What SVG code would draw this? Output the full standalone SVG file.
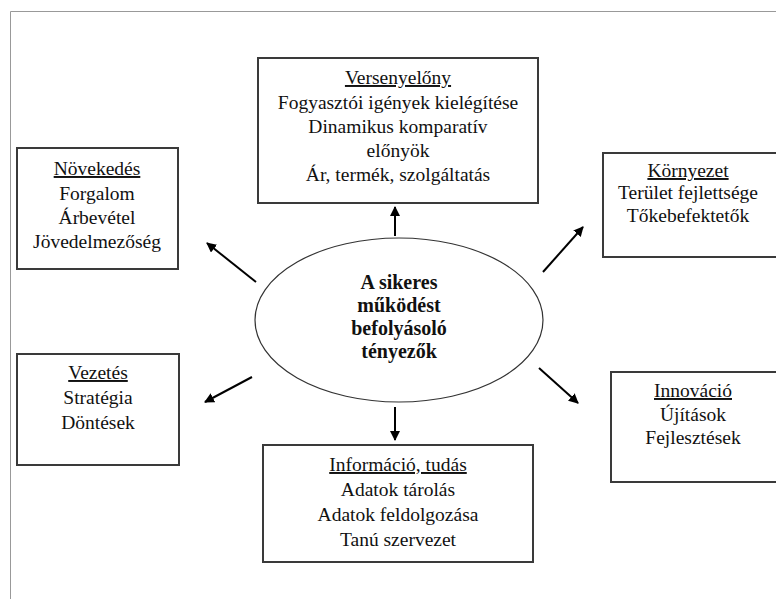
<svg xmlns="http://www.w3.org/2000/svg" width="776" height="599" viewBox="0 0 776 599">
<style>
.box{fill:#fff;stroke:#3a3a3a;stroke-width:2}
.t{font-family:"Liberation Serif","Times New Roman",serif;font-size:19.5px;fill:#111;text-anchor:middle}
.h{text-decoration:underline}
.b{font-weight:bold;font-size:20px}
.c{stroke:#000;stroke-width:2;fill:none;marker-end:url(#ah)}
</style>
<defs>
<marker id="ah" viewBox="0 0 10 10" refX="9" refY="5" markerWidth="5" markerHeight="5" orient="auto" markerUnits="strokeWidth">
<path d="M0,0 L10,5 L0,10 z" fill="#000"/>
</marker>
</defs>
<rect width="776" height="599" fill="#fff"/>
<path d="M10.5,599 V11.5 H776" fill="none" stroke="#999" stroke-width="1"/>

<g id="center">
<ellipse cx="399" cy="320" rx="144" ry="82" fill="#fff" stroke="#333" stroke-width="1.2"/>
<text class="t b" x="399" y="289">A sikeres</text>
<text class="t b" x="399" y="312">működést</text>
<text class="t b" x="399" y="335">befolyásoló</text>
<text class="t b" x="399" y="358">tényezők</text>
</g>

<g id="versenyelony">
<rect class="box" x="258" y="58" width="280" height="145"/>
<text class="t h" x="398" y="84">Versenyelőny</text>
<text class="t" x="398" y="109">Fogyasztói igények kielégítése</text>
<text class="t" x="398" y="133">Dinamikus komparatív</text>
<text class="t" x="398" y="157">előnyök</text>
<text class="t" x="398" y="181">Ár, termék, szolgáltatás</text>
</g>

<g id="novekedes">
<rect class="box" x="17" y="148" width="161" height="121"/>
<text class="t h" x="97" y="175">Növekedés</text>
<text class="t" x="97" y="200">Forgalom</text>
<text class="t" x="97" y="224">Árbevétel</text>
<text class="t" x="97" y="248">Jövedelmezőség</text>
</g>

<g id="kornyezet">
<rect class="box" x="603" y="153" width="180" height="104"/>
<text class="t h" x="688" y="177">Környezet</text>
<text class="t" x="688" y="199">Terület fejlettsége</text>
<text class="t" x="688" y="222">Tőkebefektetők</text>
</g>

<g id="vezetes">
<rect class="box" x="17" y="354" width="162" height="111"/>
<text class="t h" x="98" y="379">Vezetés</text>
<text class="t" x="98" y="404">Stratégia</text>
<text class="t" x="98" y="429">Döntések</text>
</g>

<g id="innovacio">
<rect class="box" x="611" y="372" width="180" height="110"/>
<text class="t h" x="693" y="397">Innováció</text>
<text class="t" x="693" y="421">Újítások</text>
<text class="t" x="693" y="444">Fejlesztések</text>
</g>

<g id="informacio">
<rect class="box" x="263" y="445" width="270" height="117"/>
<text class="t h" x="398" y="471">Információ, tudás</text>
<text class="t" x="398" y="496">Adatok tárolás</text>
<text class="t" x="398" y="521">Adatok feldolgozása</text>
<text class="t" x="398" y="546">Tanú szervezet</text>
</g>

<g id="connectors">
<line class="c" x1="395" y1="236" x2="395" y2="207"/>
<line class="c" x1="395" y1="407" x2="395" y2="440"/>
<line class="c" x1="256" y1="282" x2="207" y2="243"/>
<line class="c" x1="543" y1="272" x2="583" y2="227"/>
<line class="c" x1="252" y1="377" x2="205" y2="402"/>
<line class="c" x1="539" y1="368" x2="578" y2="403"/>
</g>
</svg>
